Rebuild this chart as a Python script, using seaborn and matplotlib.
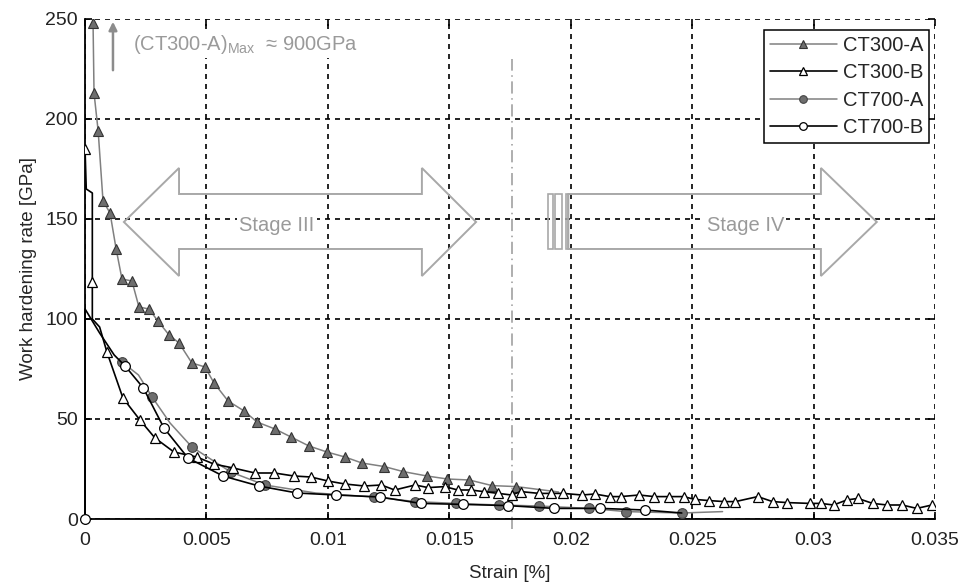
import matplotlib
matplotlib.use("Agg")
import matplotlib.pyplot as plt
from matplotlib.patches import Polygon, Rectangle
import seaborn as sns

# ---- data ----
ct300a_x = [0.0001, 0.00033, 0.00037, 0.00054, 0.00074, 0.00103, 0.00128, 0.00152, 0.00193,
            0.00222, 0.00263, 0.0030, 0.00346, 0.00387, 0.0044, 0.00494, 0.00531, 0.00589,
            0.00655, 0.00708, 0.00782, 0.00848, 0.00922, 0.00996, 0.0107, 0.0114, 0.01233,
            0.0131, 0.01408, 0.01492, 0.01582, 0.01676, 0.01776, 0.0195]
ct300a_y = [900, 248, 213, 194, 159, 153, 135, 120, 119,
            106, 105, 99, 92, 88, 78, 76, 68, 59,
            54, 48.5, 45, 41, 36.5, 33.5, 31, 28, 26.2,
            23.7, 21.5, 20, 19.5, 16.7, 16.2, 13.5]

ct300b_x = [0.0, 0.00005, 0.0003, 0.0003, 0.0003, 0.0006, 0.0009, 0.00156, 0.00226, 0.00288,
            0.00366, 0.0046, 0.0053,
            0.0061, 0.0070, 0.0078, 0.0086, 0.0093, 0.0100, 0.0107, 0.0115, 0.0122,
            0.01275, 0.01359, 0.01413, 0.01481, 0.01535, 0.01588, 0.01641, 0.01702,
            0.01756, 0.01794, 0.0187, 0.01919, 0.01969, 0.02046, 0.02099, 0.0216,
            0.02205, 0.02282, 0.02343, 0.02404, 0.02465, 0.0251, 0.02571, 0.02632,
            0.02678, 0.0277, 0.02831, 0.02892, 0.02983, 0.03029, 0.03082, 0.03136,
            0.03182, 0.03243, 0.03303, 0.03364, 0.03425, 0.03487]
ct300b_y = [185, 165, 163, 118.5, 100, 96, 83.5, 60.5, 49.5, 40.5,
            33.5, 31, 27.5,
            25.5, 23, 23, 21.5, 21, 19, 17.5, 16.5, 17,
            14.5, 17, 15.7, 16.2, 14.5, 14.5, 13.7, 12.8,
            12, 13.7, 12.8, 12.8, 12.8, 12, 12.5, 11.2,
            11.2, 12, 11.2, 11.2, 11.2, 9.8, 9.2, 8.7,
            8.7, 11.2, 8.7, 8.2, 7.8, 7.8, 7, 9.5,
            10.3, 7.8, 7, 7, 5.3, 7]

ct700a_x = [0.00152, 0.0022, 0.00276, 0.0035, 0.0044, 0.006, 0.0074, 0.0095, 0.0119,
            0.0136, 0.01527, 0.01706, 0.0187, 0.02076, 0.02229, 0.02457, 0.02625]
ct700a_y = [78.5, 72, 61, 48, 36, 23.5, 17, 13, 11,
            8.7, 7.8, 7, 6.5, 5.3, 3.7, 3, 3.7]

ct700b_x = [0.0, 0.0, 0.0006, 0.0012, 0.00165, 0.0024, 0.00325, 0.00424,
            0.00568, 0.00716, 0.00873, 0.01033, 0.01214, 0.01382, 0.01557, 0.0174,
            0.01931, 0.02122, 0.02305, 0.02457]
ct700b_y = [0, 105, 93, 82, 76.5, 65.5, 45.5, 30.5,
            21.5, 16.5, 13, 12, 11, 7.8, 7.3, 6.7,
            5.3, 5.3, 4.5, 3]

x_ticks = [0, 0.005, 0.01, 0.015, 0.02, 0.025, 0.03, 0.035]
x_tick_labels = ["0", "0.005", "0.01", "0.015", "0.02", "0.025", "0.03", "0.035"]
y_ticks = [0, 50, 100, 150, 200, 250]

sns.set_theme(style="white")
plt.rcParams['font.family'] = ['Liberation Sans', 'DejaVu Sans']

fig = plt.figure(figsize=(9.62, 5.84), dpi=100)
ax = fig.add_axes([0.0884, 0.1113, 0.8836, 0.8562])

gray = '#808080'
mgray = '#6e6e6e'

sns.lineplot(x=ct300a_x, y=ct300a_y, ax=ax, sort=False, estimator=None, color=gray, lw=1.1,
             marker='^', markersize=6.5, markerfacecolor=mgray, markeredgecolor='#333333',
             markeredgewidth=0.8, markevery=list(range(1, 33)), label='CT300-A', zorder=3)
sns.lineplot(x=ct300b_x, y=ct300b_y, ax=ax, sort=False, estimator=None, color='black', lw=1.2,
             marker='^', markersize=6.5, markerfacecolor='white', markeredgecolor='black',
             markeredgewidth=0.9,
             markevery=[i for i in range(len(ct300b_x)) if i not in (1, 2, 4, 5)],
             label='CT300-B', zorder=4)
sns.lineplot(x=ct700a_x, y=ct700a_y, ax=ax, sort=False, estimator=None, color=gray, lw=1.1,
             marker='o', markersize=7, markerfacecolor=mgray, markeredgecolor='#444444',
             markeredgewidth=0.8, markevery=[0, 2, 4, 5, 6, 8, 9, 10, 11, 12, 13, 14, 15],
             label='CT700-A', zorder=3)
sns.lineplot(x=ct700b_x, y=ct700b_y, ax=ax, sort=False, estimator=None, color='black', lw=1.2,
             marker='o', markersize=7, markerfacecolor='white', markeredgecolor='black',
             markeredgewidth=0.9, markevery=[0] + list(range(4, 19)),
             label='CT700-B', zorder=4, clip_on=False)

ax.set_xlim(0, 0.035)
ax.set_ylim(0, 250)
ax.set_xticks(x_ticks)
ax.set_xticklabels(x_tick_labels)
ax.set_yticks(y_ticks)
ax.grid(True, color='black', linestyle=(0, (3, 3)), linewidth=1.2)
for s in ['top', 'right']:
    ax.spines[s].set_visible(False)
for s in ['left', 'bottom']:
    ax.spines[s].set_color('black')
    ax.spines[s].set_linewidth(1.3)
ax.tick_params(direction='in', length=5, width=1.2, color='black', top=True, right=True,
               bottom=True, left=True, labelsize=14, labelcolor='#222222')
ax.tick_params(axis='x', pad=9)
ax.tick_params(axis='y', pad=5)
ax.set_xlabel('Strain [%]', fontsize=13.5, labelpad=12)
ax.set_ylabel('Work hardening rate [GPa]', fontsize=13.5, labelpad=6)

# dash-dot boundary line
ax.axvline(0.01758, ymin=-0.02, ymax=0.92, color='#999999', lw=1.1,
           linestyle=(0, (8, 3, 1, 3)), clip_on=False, zorder=1)

tbox = dict(facecolor='white', edgecolor='none', pad=1.5)

# max annotation
ax.annotate('', xy=(0.00115, 250), xytext=(0.00115, 223),
            arrowprops=dict(arrowstyle='-|>', color='#8c8c8c', lw=1.8, mutation_scale=12))
ax.text(0.00198, 237, r'(CT300-A)$_{\mathregular{Max}}$  ≈ 900GPa', color='#9a9a9a',
        fontsize=14.5, va='center', ha='left', zorder=3, bbox=tbox)

acol = '#a8a8a8'
# Stage III double arrow
stage3 = [(0.0016, 148.5), (0.00387, 175.5), (0.00387, 162.5), (0.01387, 162.5), (0.01387, 175.5),
          (0.0161, 148.5), (0.01387, 121.5), (0.01387, 135), (0.00387, 135), (0.00387, 121.5)]
ax.add_patch(Polygon(stage3, closed=True, facecolor='none', edgecolor=acol, lw=1.4, zorder=2))
ax.text(0.0079, 146.5, 'Stage III', color='#9a9a9a', fontsize=14.5, ha='center', va='center',
        zorder=3, bbox=tbox)

# Stage IV arrow with break marks
stage4 = [(0.0199, 162.5), (0.0303, 162.5), (0.0303, 175.5), (0.0326, 148.5), (0.0303, 121.5),
          (0.0303, 135), (0.0199, 135)]
ax.add_patch(Polygon(stage4, closed=True, facecolor='none', edgecolor=acol, lw=1.4, zorder=2))
for x0, w in [(0.01908, 0.00017), (0.01936, 0.00027), (0.01980, 0.0001)]:
    ax.add_patch(Rectangle((x0, 135), w, 27.5, facecolor='none', edgecolor=acol, lw=1.2, zorder=2))
ax.text(0.0272, 146.5, 'Stage IV', color='#9a9a9a', fontsize=14.5, ha='center', va='center',
        zorder=3, bbox=tbox)

leg = ax.legend(loc='upper right', bbox_to_anchor=(0.993, 0.978), fontsize=14.5, frameon=True,
                fancybox=False, edgecolor='black', framealpha=1, handlelength=3.3,
                handletextpad=0.3, borderpad=0.3, labelspacing=0.42, borderaxespad=0)
leg.get_frame().set_linewidth(1.1)
for h in leg.legend_handles:
    h.set_markersize(5.5)

fig.savefig('out.png', dpi=100)
